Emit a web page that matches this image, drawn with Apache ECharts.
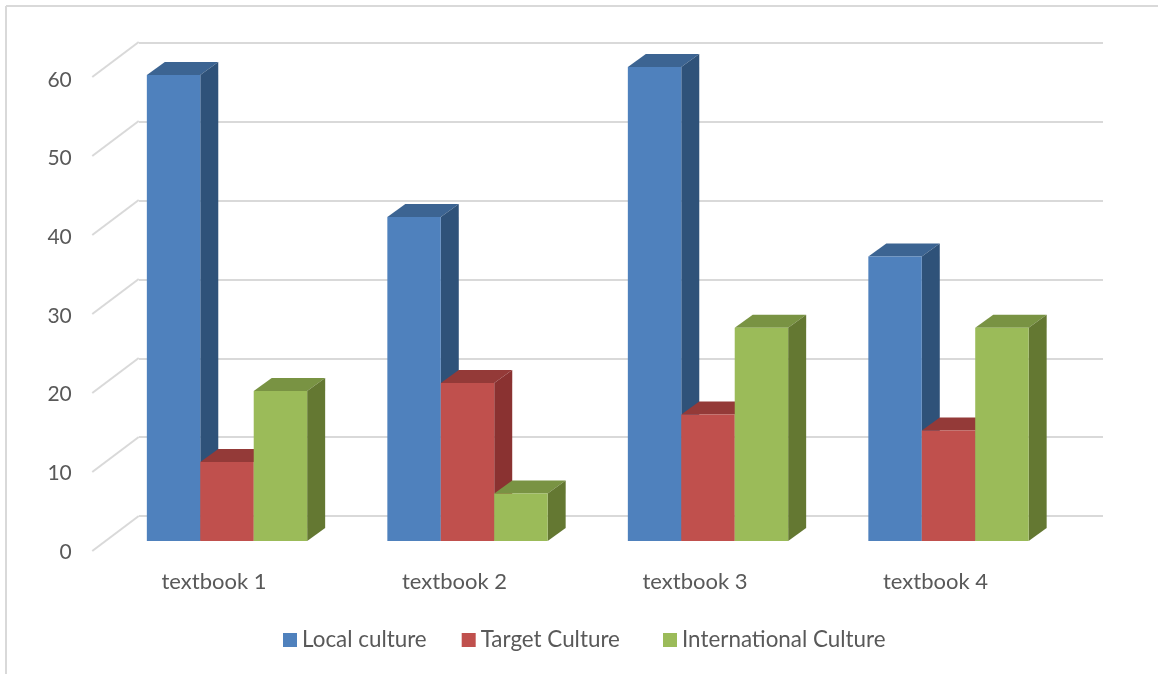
<!DOCTYPE html>
<html>
<head>
<meta charset="utf-8">
<style>html,body{margin:0;padding:0;background:#fff}#c{width:1158px;height:674px}</style>
<script src="https://cdn.jsdelivr.net/npm/echarts@6/dist/echarts.min.js"></script>
</head>
<body>
<div id="c"></div>
<script>
const categories = ['textbook 1', 'textbook 2', 'textbook 3', 'textbook 4'];
const localCulture = [59, 41, 60, 36];
const targetCulture = [10, 20, 16, 14];
const internationalCulture = [19, 6, 27, 27];
const gridTicks = [0, 10, 20, 30, 40, 50, 60];

const TXT = '#595959', GRID = '#d9d9d9', FONT = 'Lato, "Open Sans", sans-serif';
const DX = 18, DY = -13;

function barSeries(name, values, idx, front, top, side) {
  return {
    name, type: 'custom', coordinateSystem: 'cartesian2d',
    xAxisIndex: 0, yAxisIndex: 0, z: 5 + idx,
    itemStyle: { color: front },
    data: values.map((v, i) => [i, v]),
    encode: { x: 0, y: 1 },
    renderItem(params, api) {
      const t = api.coord([api.value(0), api.value(1)]);
      const b = api.coord([api.value(0), 0]);
      const w = api.size([1, 0])[0] * 0.2222;
      const x0 = t[0] + (idx - 1.5) * w, x1 = x0 + w;
      const poly = (pts, fill) => ({
        type: 'polygon', shape: { points: pts },
        style: { fill, stroke: null }
      });
      return {
        type: 'group',
        children: [
          poly([[x0, t[1]], [x0 + DX, t[1] + DY], [x1 + DX, t[1] + DY], [x1, t[1]]], top),
          poly([[x1, t[1]], [x1 + DX, t[1] + DY], [x1 + DX, b[1] + DY], [x1, b[1]]], side),
          poly([[x0, t[1]], [x1, t[1]], [x1, b[1]], [x0, b[1]]], front)
        ]
      };
    }
  };
}

const hiddenX = (i) => ({ gridIndex: i, type: 'category', data: categories, axisLine: { show: false }, axisTick: { show: false }, axisLabel: { show: false } });
const hiddenY = (i) => ({ gridIndex: i, type: 'value', min: 0, max: 60, interval: 10, axisLine: { show: false }, axisTick: { show: false }, axisLabel: { show: false }, splitLine: { show: false } });
const legendBase = { top: 624, itemWidth: 14, itemHeight: 14, itemGap: 35, icon: 'rect',
  textStyle: { color: TXT, fontSize: 22.4, fontFamily: FONT } };

const option = {
  animation: false,
  backgroundColor: '#fff',
  textStyle: { fontFamily: FONT },
  graphic: [
    { type: 'line', silent: true, z: 0, shape: { x1: 6, y1: 6, x2: 1158, y2: 6 }, style: { stroke: GRID, lineWidth: 2 } },
    { type: 'line', silent: true, z: 0, shape: { x1: 6, y1: 6, x2: 6, y2: 674 }, style: { stroke: GRID, lineWidth: 2 } }
  ],
  grid: [
    { left: 106.75, top: 67, width: 962, height: 474 },
    { left: 93.75, top: 77, width: 962, height: 474 },
    { left: 139, top: 43, width: 964, height: 473 },
    { left: 93.75, top: 80, width: 962, height: 472 }
  ],
  xAxis: [
    hiddenX(0),
    { gridIndex: 1, type: 'category', data: categories, axisLine: { show: false }, axisTick: { show: false },
      axisLabel: { color: TXT, fontSize: 22, fontFamily: FONT, margin: 20 } },
    hiddenX(2),
    hiddenX(3)
  ],
  yAxis: [
    hiddenY(0),
    hiddenY(1),
    Object.assign(hiddenY(2), { splitLine: { show: true, lineStyle: { color: GRID, width: 2 } } }),
    Object.assign(hiddenY(3), { axisLabel: { show: true, color: TXT, fontSize: 21, fontFamily: FONT, margin: 22 } })
  ],
  legend: [
    Object.assign({ data: ['Local culture', 'Target Culture'], left: 278 }, legendBase),
    Object.assign({ data: ['International Culture'], left: 658 }, legendBase)
  ],
  series: [
    {
      type: 'custom', coordinateSystem: 'cartesian2d', xAxisIndex: 1, yAxisIndex: 1, z: 1, silent: true,
      data: gridTicks.map(v => [0, v]),
      renderItem(params, api) {
        const p = api.coord([0, api.value(1)]);
        const x = p[0] - api.size([1, 0])[0] / 2 - 1.5;
        return { type: 'line', shape: { x1: x, y1: p[1], x2: x + 46.5, y2: p[1] - 35 },
          style: { stroke: GRID, lineWidth: 2, fill: null } };
      }
    },
    barSeries('Local culture', localCulture, 0, '#4F81BD', '#3C6492', '#2F5279'),
    barSeries('Target Culture', targetCulture, 1, '#C0504D', '#943A38', '#8A3231'),
    barSeries('International Culture', internationalCulture, 2, '#9BBB59', '#799343', '#647832')
  ]
};
echarts.init(document.getElementById('c'), null, { renderer: 'canvas' }).setOption(option);
</script>
</body>
</html>
